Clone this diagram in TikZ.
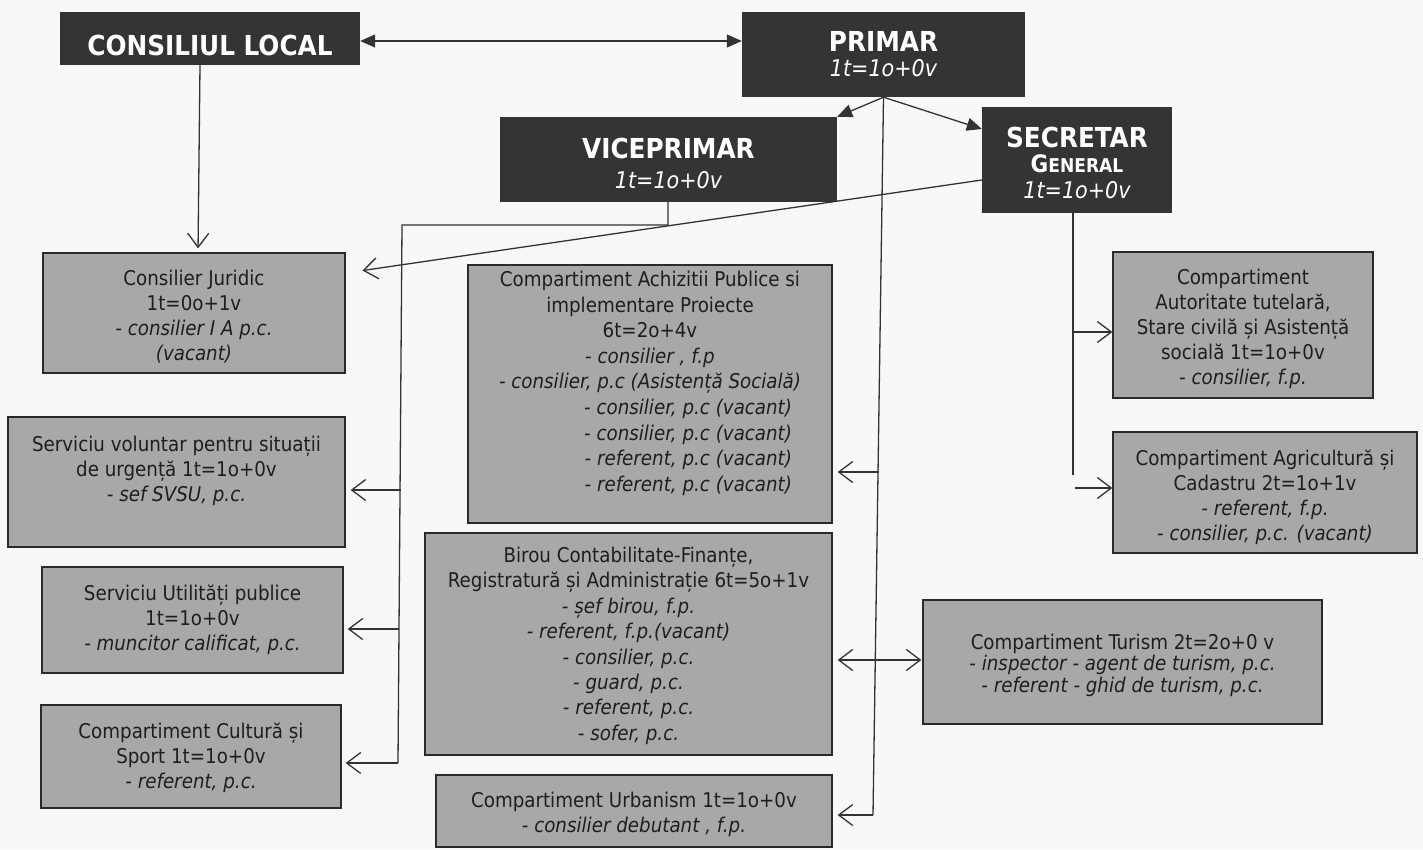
\documentclass[tikz,border=0pt]{standalone}
\usepackage{fontspec}
\setmainfont{DejaVuSansCondensed.ttf}[BoldFont=DejaVuSansCondensed-Bold.ttf, ItalicFont=DejaVuSansCondensed-Oblique.ttf, BoldItalicFont=DejaVuSansCondensed-BoldOblique.ttf]
\usetikzlibrary{arrows.meta}
\definecolor{darkbox}{HTML}{343434}
\definecolor{lightbox}{HTML}{A8A8A8}
\definecolor{boxline}{HTML}{2A2A2A}
\definecolor{txt}{HTML}{1E1E1E}
\definecolor{paper}{HTML}{F8F8F8}
\definecolor{wire}{HTML}{333333}
\tikzset{
  darkbx/.style={fill=darkbox, draw=none, text=white, align=center, inner sep=0pt, text depth=0pt, font=\fontsize{23}{25}\selectfont},
  lbox/.style={fill=lightbox, draw=boxline, line width=1.3pt, text=txt, align=center, inner sep=0pt, font=\fontsize{20.3}{25}\selectfont},
  wireln/.style={draw=wire, line width=1.3pt},
  openarr/.style={wireln, -{Straight Barb[length=14pt,width=21pt,line width=1.3pt]}},
  openarrboth/.style={wireln, {Straight Barb[length=14pt,width=21pt,line width=1.3pt]}-{Straight Barb[length=14pt,width=21pt,line width=1.3pt]}},
  fillarr/.style={wireln, -{Triangle[length=15pt,width=13pt]}},
  fillarrboth/.style={wireln, {Triangle[length=15pt,width=13pt]}-{Triangle[length=15pt,width=13pt]}},
}
\newcommand{\tl}[1]{{\fontsize{27.5}{27.5}\selectfont\bfseries #1}}
\newcommand{\ct}[1]{{\fontsize{23}{23}\selectfont\itshape #1}}
\newcommand{\fl}[1][21.5pt]{\rule{0pt}{#1}}
\begin{document}
\begin{tikzpicture}[x=1pt,y=-1pt]
\useasboundingbox (0,0) rectangle (1423,849);
\fill[paper] (0,0) rectangle (1423,849);

% top dark boxes
\node[darkbx, minimum width=300pt, minimum height=53pt, text height=33pt] (cl) at (210,38.5)
  {\tl{CONSILIUL LOCAL}};
\node[darkbx, minimum width=283pt, minimum height=85pt, text height=44pt] (prim) at (883.5,54.5)
  {\tl{PRIMAR}\\\ct{1t=1o+0v}};
\node[darkbx, minimum width=337pt, minimum height=85pt, text height=57pt] (vp) at (668.5,159.5)
  {\tl{VICEPRIMAR}\\[5pt]\ct{1t=1o+0v}};
\node[darkbx, minimum width=190pt, minimum height=106pt, text height=76pt] (sec) at (1077,160)
  {\tl{SECRETAR}\\{\bfseries\fontsize{24}{24}\selectfont G\fontsize{19}{19}\selectfont ENERAL}\\[1pt]\ct{1t=1o+0v}};

% left column
\node[lbox, minimum width=302pt, minimum height=120pt] (cj) at (194,313)
  {\fl[22.5pt]Consilier Juridic\\1t=0o+1v\\\textit{- consilier I A p.c.}\\\textit{(vacant)}};
\node[lbox, minimum width=337pt, minimum height=130pt] (svsu) at (176.5,482)
  {\fl[17pt]Serviciu voluntar pentru situații\\de urgență 1t=1o+0v\\\textit{- sef SVSU, p.c.}\\[4pt]\mbox{}};
\node[lbox, minimum width=301pt, minimum height=106pt] (util) at (192.5,620)
  {Serviciu Utilități publice\\1t=1o+0v\\\textit{- muncitor calificat, p.c.}};
\node[lbox, minimum width=300pt, minimum height=103pt] (cult) at (191,756.5)
  {\fl[19pt]Compartiment Cultură și\\Sport 1t=1o+0v\\\textit{- referent, p.c.}};

% middle column
\node[lbox, minimum width=364pt, minimum height=258pt, font=\fontsize{20.3}{25.6}\selectfont] (acq) at (650,394)
  {Compartiment Achizitii Publice si\\implementare Proiecte\\6t=2o+4v\\\textit{- consilier , f.p}\\\textit{- consilier, p.c (Asistență Socială)}\\
   \makebox[284pt][r]{\textit{- consilier, p.c (vacant)}}\\
   \makebox[284pt][r]{\textit{- consilier, p.c (vacant)}}\\
   \makebox[284pt][r]{\textit{- referent, p.c (vacant)}}\\
   \makebox[284pt][r]{\textit{- referent, p.c (vacant)}}\\ \mbox{}};
\node[lbox, minimum width=407pt, minimum height=222pt, font=\fontsize{20.3}{25.4}\selectfont] (bir) at (628.5,644)
  {\fl[19pt]Birou Contabilitate-Finanțe,\\Registratură și Administrație 6t=5o+1v\\\textit{- șef birou, f.p.}\\\textit{- referent, f.p.(vacant)}\\\textit{- consilier, p.c.}\\\textit{- guard, p.c.}\\\textit{- referent, p.c.}\\\textit{- sofer, p.c.}};
\node[lbox, minimum width=396pt, minimum height=72pt] (urb) at (634,811)
  {\fl[21.5pt]Compartiment Urbanism 1t=1o+0v\\\textit{- consilier debutant , f.p.}};

% right column
\node[lbox, minimum width=260pt, minimum height=146pt] (aut) at (1243,325)
  {\fl[23.5pt]Compartiment\\Autoritate tutelară,\\Stare civilă și Asistență\\socială 1t=1o+0v\\\textit{- consilier, f.p.}};
\node[lbox, minimum width=304pt, minimum height=121pt] (agr) at (1265,492.5)
  {\fl[25pt]Compartiment Agricultură și\\Cadastru 2t=1o+1v\\\textit{- referent, f.p.}\\\textit{- consilier, p.c. (vacant)}};
\node[lbox, minimum width=399pt, minimum height=124pt, font=\fontsize{20.3}{21.5}\selectfont] (tur) at (1122.5,662)
  {\fl[21.5pt]Compartiment Turism 2t=2o+0 v\\\textit{- inspector - agent de turism, p.c.}\\\textit{- referent - ghid de turism, p.c.}};

% connectors: top
\draw[fillarrboth] (cl.east |- 0,41) -- (prim.west |- 0,41);
\draw[fillarr] (prim.south) -- (vp.north east);
\draw[fillarr] (prim.south) -- (sec.west |- 0,129);

% Consiliul local -> consilier juridic
\draw[openarr, shorten >=4pt] (cl.south -| 200,0) -- (cj.north -| 198,0);

% Secretar -> consilier juridic
\draw[openarr, shorten >=17pt] (sec.west |- 0,180) -- (cj.east |- 0,273);

% Primar vertical bus
\coordinate (pbot) at (873,815);
\draw[wireln] (prim.south) -- (pbot);
\draw[openarr, shorten >=5pt] (pbot) -- (urb.east |- pbot);
\draw[openarr, shorten >=5pt] (878.6,472) -- (acq.east |- 0,472);
\draw[openarrboth, shorten <=5pt, shorten >=1pt] (bir.east |- 0,660) -- (tur.west |- 0,660);

% Viceprimar bus
\coordinate (vb1) at (668,225);
\coordinate (vb2) at (402,225);
\coordinate (vb3) at (398,763);
\draw[wireln] (vp.south -| vb1) -- (vb1) -- (vb2) -- (vb3);
\draw[openarr, shorten >=4pt] (vb3) -- (cult.east |- vb3);
\draw[openarr, shorten >=5pt] (400.7,490) -- (svsu.east |- 0,490);
\draw[openarr, shorten >=4pt] (399,629) -- (util.east |- 0,629);

% Secretar bus
\coordinate (sb) at (1073,475);
\draw[wireln] (sec.south -| sb) -- (sb);
\draw[openarr] (1073,332) -- (aut.west |- 0,332);
\draw[openarr] (1075,488) -- (agr.west |- 0,488);
\end{tikzpicture}
\end{document}
